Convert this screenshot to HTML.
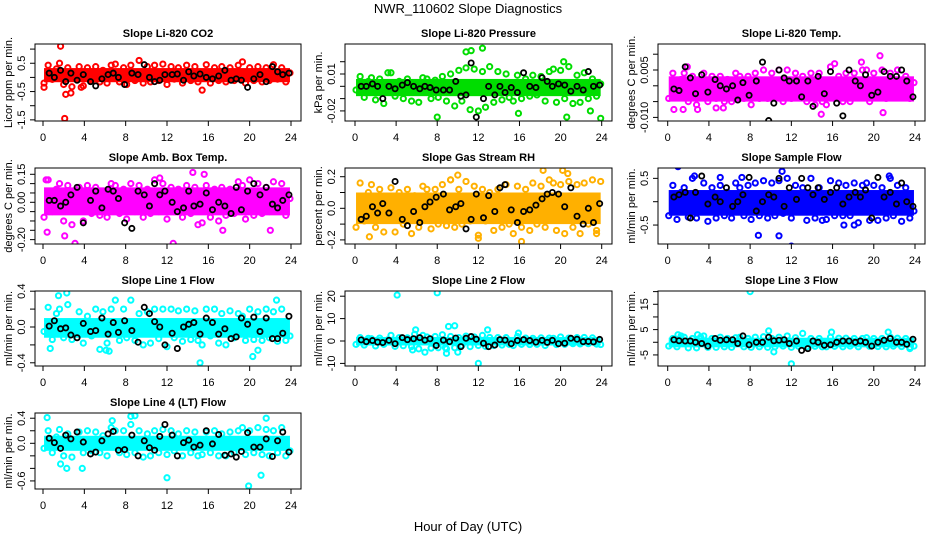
<!DOCTYPE html>
<html><head><meta charset="utf-8"><style>
html,body{margin:0;padding:0;background:#fff;}
svg{display:block;font-family:"Liberation Sans",sans-serif;}
</style></head><body>
<svg id="chart" width="936" height="540" viewBox="0 0 936 540">
<text x="468" y="13" text-anchor="middle" font-size="13">NWR_110602  Slope Diagnostics</text>
<text x="468" y="531" text-anchor="middle" font-size="13">Hour of Day (UTC)</text>
</svg>
<script>
const xTicks = [0,4,8,12,16,20,24];
const colHours = [0.1,0.5,0.9,1.3,1.6,2.0,2.4,2.8,3.2,3.5,3.9,4.3,4.7,5.1,5.5,5.8,6.2,6.6,7.0,7.4,7.8,8.1,8.5,8.9,9.3,9.7,10.1,10.4,10.8,11.2,11.6,12.0,12.4,12.7,13.1,13.5,13.9,14.3,14.7,15.0,15.4,15.8,16.2,16.6,17.0,17.3,17.7,18.1,18.5,18.9,19.3,19.6,20.0,20.4,20.8,21.2,21.6,21.9,22.3,22.7,23.1,23.5,23.9];
const blkHours = [0.6,1.1,1.7,2.2,2.7,3.3,3.9,4.6,5.1,5.7,6.3,6.8,7.3,7.9,8.6,9.2,9.8,10.3,10.8,11.3,11.8,12.5,13.0,13.6,14.1,14.6,15.2,15.8,16.4,17.0,17.6,18.2,18.7,19.2,19.8,20.4,21.0,21.6,22.2,22.7,23.2,23.8];

const titles = ["Slope Li-820 CO2","Slope Li-820 Pressure","Slope Li-820 Temp.","Slope Amb. Box Temp.","Slope Gas Stream RH","Slope Sample Flow","Slope Line 1 Flow","Slope Line 2 Flow","Slope Line 3 Flow","Slope Line 4 (LT) Flow"];
const yTitles = ["Licor ppm per min.","kPa per min.","degrees C per min.","degrees C per min.","percent per min.","ml/min per min.","ml/min per min.","ml/min per min.","ml/min per min.","ml/min per min."];
const colors = ["#ff0000","#00dd00","#ff00ff","#ff00ff","#ffb000","#0000ff","#00ffff","#00ffff","#00ffff","#00ffff"];
const yTickVals = [[1,0.5,0,-0.5,-1,-1.5],[0.02,0.01,0,-0.01,-0.02],[0.01,0.005,0,-0.005,-0.01],[0.15,0.1,0.05,0,-0.05,-0.1,-0.15,-0.2],[0.2,0.1,0,-0.1,-0.2],[0.5,0,-0.5],[0.4,0.2,0,-0.2,-0.4],[20,10,0,-10],[20,15,10,5,0,-5],[0.4,0.2,0,-0.2,-0.4,-0.6]];
const yTickLabels = [["","0.5","","-0.5","","-1.5"],["","0.01","","","-0.02"],["","0.005","","","-0.010"],["0.15","","","0.00","","","","-0.20"],["0.2","","0.0","","-0.2"],["0.5","","-0.5"],["0.4","","0.0","","-0.4"],["20","10","0","-10"],["","15","","5","","-5"],["0.4","","0.0","","","-0.6"]];
const yDomains = [[-1.54,1.18],[-0.0282,0.0344],[-0.01114,0.01323],[-0.2234,0.1837],[-0.2259,0.2551],[-0.9058,0.7217],[-0.4358,0.4022],[-11.16,22.32],[-9.37,20.24],[-0.7289,0.4833]];
const bandLo = [-0.17,-0.008,-0.005,-0.07,-0.1,-0.3,-0.12,-2.0,-2.0,-0.12];
const bandHi = [0.33,0.006,0.003,0.08,0.1,0.25,0.1,1.8,1.8,0.12];

const colVals = [
[-0.2,0.43,-0.07,0.3,0.5,-0.25,0.34,-0.33,0.16,0.38,-0.3,0.34,-0.11,0.38,-0.16,0.25,-0.2,0.43,0.47,-0.16,0.34,-0.25,0.43,-0.11,0.6,-0.2,0.38,-0.16,0.43,-0.11,0.47,-0.25,0.38,-0.06,0.34,-0.2,0.43,-0.11,0.38,-0.16,-0.45,0.45,-0.2,0.34,-0.11,0.38,-0.16,0.34,-0.11,0.43,0.55,-0.2,0.34,-0.11,0.38,-0.16,0.34,-0.11,0.45,-0.06,0.34,-0.16,0.16],
[-0.003,0.008,-0.009,0.004,0.007,-0.011,0.006,-0.014,0.001,0.011,-0.008,0.004,-0.01,0.006,-0.012,0.003,-0.013,0.007,0.006,-0.01,0.005,-0.009,0.008,-0.012,0.01,-0.016,0.013,-0.012,0.015,-0.019,0.014,-0.02,0.012,-0.017,0.016,-0.013,0.012,-0.011,0.01,-0.009,-0.012,0.009,-0.01,0.006,-0.008,0.009,-0.007,0.008,-0.012,0.012,0.014,-0.013,0.013,-0.01,0.016,-0.014,0.009,-0.013,0.011,-0.01,0.006,-0.008,0.002],
[-0.004,0.004,-0.003,0.002,0.004,-0.005,0.003,-0.006,0.0,0.004,-0.005,0.003,-0.004,0.003,-0.005,0.002,-0.005,0.004,0.003,-0.004,0.003,-0.006,0.004,-0.004,0.005,-0.004,0.004,-0.003,0.005,-0.005,0.005,-0.004,0.004,-0.003,0.003,-0.005,0.004,-0.006,0.004,-0.005,-0.006,0.006,-0.004,0.003,-0.005,0.004,-0.005,0.004,-0.003,0.005,0.005,-0.005,0.004,-0.003,0.005,-0.004,0.004,-0.003,0.005,-0.003,0.003,-0.004,0.001],
[-0.08,0.12,-0.05,0.07,0.1,-0.1,0.09,-0.12,0.03,0.08,-0.1,0.09,-0.06,0.08,-0.07,0.06,-0.08,0.1,0.09,-0.06,0.07,-0.09,0.1,-0.05,0.09,-0.08,0.07,-0.06,0.12,-0.05,0.1,-0.09,0.08,-0.04,0.07,-0.08,0.09,-0.06,0.08,-0.12,-0.11,0.09,-0.08,0.07,-0.1,0.08,-0.07,0.07,-0.06,0.11,0.09,-0.09,0.12,-0.07,0.1,-0.06,0.08,-0.05,0.11,-0.04,0.1,-0.07,0.02],
[-0.12,0.16,-0.08,0.1,0.15,-0.12,0.12,-0.15,0.04,0.13,-0.15,0.1,-0.1,0.12,-0.16,0.08,-0.12,0.14,0.12,-0.13,0.12,-0.1,0.15,-0.11,0.18,-0.12,0.12,-0.1,0.17,-0.08,0.14,-0.17,0.12,-0.08,0.1,-0.14,0.12,-0.12,0.15,-0.1,-0.16,0.14,-0.12,0.12,-0.14,0.16,-0.1,0.14,-0.12,0.18,0.16,-0.14,0.15,-0.16,0.17,-0.12,0.15,-0.16,0.16,-0.1,0.18,-0.14,0.17],
[-0.3,0.35,-0.38,0.2,0.3,-0.33,0.5,-0.35,0.1,0.4,-0.42,0.3,-0.35,0.35,-0.3,0.2,-0.35,0.4,0.3,-0.3,0.35,-0.38,0.4,-0.3,0.45,-0.35,0.4,-0.3,0.45,-0.25,0.5,-0.35,0.35,-0.2,0.3,-0.4,0.5,-0.35,0.3,-0.4,-0.38,0.45,-0.3,0.4,-0.3,0.35,-0.3,0.4,-0.45,0.35,0.4,-0.4,0.35,-0.4,0.3,-0.35,0.5,-0.3,0.35,-0.42,0.3,-0.35,-0.2],
[-0.05,0.22,-0.14,0.15,0.2,-0.12,0.25,-0.14,0.05,0.17,-0.18,0.12,-0.1,0.2,-0.25,0.17,-0.18,0.2,0.3,-0.15,0.2,-0.12,0.3,-0.15,0.15,-0.2,0.17,-0.18,0.2,-0.13,0.2,-0.22,0.2,-0.12,0.18,-0.16,0.2,-0.14,0.18,-0.15,-0.2,0.2,-0.1,0.2,-0.18,0.15,-0.2,0.18,-0.12,0.15,0.12,-0.15,0.2,-0.14,0.17,-0.15,0.2,-0.12,0.17,-0.16,0.2,-0.15,-0.1],
[-1.5,1.5,-1.8,1.2,1.0,-2.2,1.3,-1.5,0.5,2.5,-2.4,1.5,-2.1,1.4,-2.5,3.0,-3.5,2.5,1.8,-3.2,2.0,-3.0,2.8,-3.5,2.0,-3.0,1.5,-2.0,2.2,-2.5,1.8,-2.0,2.5,-2.4,1.6,-2.0,1.5,-1.8,1.5,-1.5,-2.0,2.0,-1.5,1.3,-1.6,1.2,-1.5,1.4,-2.0,1.3,1.2,-1.6,1.8,-1.5,1.3,-1.2,1.5,-1.3,1.6,-1.2,1.4,-1.4,-1.6],
[-1.5,1.5,-1.8,2.5,2.0,-2.2,1.5,-2.2,2.0,2.5,-2.0,1.5,-2.0,2.0,-1.8,1.5,-2.0,1.8,2.0,-1.8,1.5,-2.0,2.0,-1.8,2.2,-2.0,1.5,-1.8,2.0,-1.5,2.5,-2.0,1.8,-1.6,3.5,-1.8,1.5,-1.6,1.5,-1.8,-1.8,2.0,-1.6,1.6,-1.8,1.6,-1.5,1.5,-1.8,1.5,1.8,-1.6,1.5,-1.7,1.5,-1.8,2.0,-1.5,1.6,-1.7,1.5,-2.0,-1.5],
[-0.08,0.2,-0.15,0.1,0.22,-0.2,0.15,-0.22,0.05,0.18,-0.15,0.2,-0.12,0.18,-0.15,0.12,-0.2,0.25,0.2,-0.15,0.2,-0.18,0.3,-0.15,0.2,-0.22,0.15,-0.2,0.2,-0.15,0.22,-0.18,0.2,-0.12,0.15,-0.2,0.2,-0.15,0.18,-0.2,-0.18,0.18,-0.15,0.2,-0.2,0.15,-0.2,0.18,-0.15,0.2,0.25,-0.18,0.2,-0.15,0.25,-0.18,0.22,-0.2,0.2,-0.15,0.25,-0.2,-0.12]
];
const outHours = [
[1.7,2.1,0.1,2.2,2.7,3.7],
[10.8,11.3,12.4,8.0,20.6,23.9,15.9,22.9,3.2,20.3],
[20.6,20.9,14.9,0.6,1.5,2.9,4.7,5.4,1.9,16.2,18.8],
[0.4,2.1,3.1,12.6,14.5,15.6,0.3,11.3,17.4,22.0],
[18.3,20.2,20.7,16.2,12.0,10.0,1.4,9.3,23.5],
[1.0,12.0,8.8,10.8,11.1,2.6,5.1,7.2,17.1,18.1,21.5],
[2.3,1.5,15.2,20.3,20.8,22.6,0.7,6.1,6.4],
[4.1,8.0,12.0,9.1,9.7,5.9,12.9,6.8,8.9,10.0,5.6,15.9,8.8],
[8.0,12.0,9.8,10.3,21.4,15.9,2.9,23.5,1.0],
[0.4,8.5,8.9,2.3,12.0,19.9,21.1,3.8,6.7,21.6,1.7]
];
const outVals = [
[1.1,-1.45,-0.35,-0.6,-0.55,-0.35],
[0.028,0.029,0.031,-0.025,-0.025,-0.026,-0.022,-0.02,0.011,0.02],
[0.0095,-0.0085,-0.009,-0.0075,-0.0075,-0.0075,-0.007,-0.007,0.006,0.007,0.0075],
[-0.16,-0.18,-0.22,-0.22,0.16,0.15,0.12,0.13,-0.15,-0.15],
[0.24,0.24,0.22,-0.21,-0.19,0.21,-0.18,0.18,-0.16],
[0.75,-0.95,-0.72,-0.73,0.65,0.55,0.52,0.52,-0.5,-0.5,0.55],
[0.38,0.35,-0.4,-0.33,-0.26,0.3,-0.24,-0.26,-0.27],
[20.5,21.5,-10,6.5,6.8,5.0,5.0,-5,-5.5,-5,-4,3.5,-3],
[20,-8.5,4.5,-3.8,4,4,3,-2.5,3],
[0.41,0.43,0.44,-0.4,-0.55,-0.68,-0.51,-0.4,0.36,0.4,-0.33]
];
const blkVals = [
[0.15,0.0,0.25,-0.15,0.15,-0.1,0.1,-0.15,-0.3,-0.05,0.1,0.15,0.0,-0.25,0.15,0.1,0.45,0.0,-0.15,-0.1,0.1,0.1,0.12,-0.1,0.2,0.05,0.12,0.0,-0.05,0.05,0.25,-0.1,-0.05,-0.1,-0.35,-0.05,0.1,-0.15,0.38,0.2,0.1,0.15],
[0.0,0.0,0.002,0.0,-0.01,0.0,-0.002,0.001,0.003,0.0,-0.002,0.0,-0.001,-0.003,-0.003,-0.003,0.004,-0.008,-0.007,0.019,-0.025,-0.01,0.0,-0.007,0.0,-0.005,-0.001,-0.005,0.011,0.0,-0.001,0.007,0.004,0.0,0.002,0.001,-0.004,0.0,-0.003,0.012,0.0,0.001],
[-0.001,-0.0015,0.006,0.0025,-0.0025,0.0035,-0.002,0.002,0.0,-0.001,0.0,-0.0045,0.001,-0.003,0.0015,0.0075,-0.011,-0.0055,0.005,0.0025,0.0015,0.0015,-0.0035,0.0015,-0.0065,0.003,-0.0025,0.0045,-0.0055,-0.0095,0.005,0.0015,0.0,0.0035,-0.003,-0.002,0.0045,0.003,0.003,0.005,0.0015,-0.0035],
[0.01,0.01,-0.02,0.0,0.04,0.08,-0.11,0.01,0.06,-0.03,0.07,0.06,0.02,-0.11,-0.14,0.06,0.04,-0.02,0.10,0.04,0.06,0.0,-0.05,-0.03,0.06,-0.02,-0.01,0.05,-0.04,0.0,-0.02,-0.06,0.08,-0.04,0.06,0.10,0.04,0.08,-0.01,-0.03,0.01,0.04],
[-0.07,-0.05,0.01,-0.03,0.03,-0.03,0.17,-0.07,-0.11,-0.02,-0.09,0.01,0.04,0.07,0.09,-0.01,0.01,0.03,-0.13,-0.07,0.09,-0.06,0.08,-0.02,0.13,0.15,-0.01,-0.09,-0.02,-0.01,0.02,0.06,0.09,0.1,0.09,0.01,0.13,-0.05,-0.1,0.0,-0.09,0.03],
[0.1,0.15,0.2,-0.35,0.2,0.55,-0.05,0.1,0.0,0.3,-0.1,0.0,0.15,0.52,-0.2,0.0,0.15,0.1,0.5,-0.1,0.3,0.05,0.5,0.3,0.15,0.3,0.05,0.2,0.3,-0.05,0.1,0.2,0.1,0.25,-0.35,0.52,0.1,0.2,-0.05,0.4,0.0,-0.1],
[0.01,0.07,-0.02,-0.01,-0.09,-0.12,0.04,-0.05,-0.04,0.1,-0.08,0.05,-0.06,0.07,-0.04,-0.17,0.22,0.15,0.06,0.0,-0.2,-0.07,-0.24,0.0,0.03,0.05,-0.08,0.1,0.05,-0.08,-0.02,-0.13,-0.11,0.1,0.03,0.11,-0.05,0.1,-0.13,-0.13,-0.07,0.12],
[0.5,-0.3,0.2,-0.5,-0.7,0.3,-1.2,1.5,0.6,1.0,1.5,0.4,1.0,-2.0,0.4,-0.3,1.3,-2.5,1.2,2.0,0.8,-1.0,-2.5,-1.8,0.6,0.4,-1.2,0.2,0.6,0.2,-0.5,0.3,-0.6,0.3,-1.2,-1.0,1.2,0.8,-0.3,-0.2,-0.4,0.7],
[1.0,0.6,0.5,0.5,0.0,-0.5,-1.5,1.5,0.8,1.0,1.0,-0.5,2.5,-1.0,0.0,0.0,2.0,0.6,0.8,1.0,-0.5,0.5,-3.2,-2.5,0.5,0.0,-1.2,-1.0,0.0,0.5,0.5,0.0,0.5,0.0,-1.5,0.0,0.8,1.5,0.0,0.0,-0.8,1.2],
[0.08,0.01,-0.08,0.13,0.07,0.18,0.02,-0.17,-0.14,0.04,0.15,0.19,-0.11,-0.1,0.13,-0.2,0.04,-0.07,-0.11,0.11,0.3,0.13,-0.2,0.01,0.05,-0.06,-0.03,0.2,-0.01,0.14,-0.19,-0.17,-0.22,-0.13,0.17,-0.06,-0.06,0.07,-0.21,0.04,0.18,-0.14]
];

// layout (pixel geometry)
const colBox = [[35,301,43,291],[345,612,355,601.7],[658,925,667.7,915]];
const rowBox = [[44,121],[168,244],[291,366],[413,489]];
const NS = "http://www.w3.org/2000/svg";
const svg = document.getElementById("chart");
function mk(tag, attrs, parent){const e=document.createElementNS(NS,tag);for(const k in attrs)e.setAttribute(k,attrs[k]);(parent||svg).appendChild(e);return e;}

for(let p=0;p<10;p++){
  const c = colBox[p%3], r = rowBox[Math.floor(p/3)];
  const [L,R,x0,x24]=c, [T,B]=r;
  const xs = h => x0 + (x24-x0)*h/24;
  const [dmin,dmax]=yDomains[p];
  const ys = v => B - (v-dmin)/(dmax-dmin)*(B-T);
  const g = mk("g",{});
  
  
  const clip = mk("clipPath",{id:"clip"+p},g);
  mk("rect",{x:L,y:T,width:R-L,height:B-T},clip);
  const t = mk("text",{x:(L+R)/2,y:T-7,"text-anchor":"middle","font-size":"11","font-weight":"bold"},g);
  t.textContent = titles[p];
  
  
  const yt = mk("text",{x:0,y:0,"text-anchor":"middle","font-size":"11",transform:`translate(${L-23},${(T+B)/2}) rotate(-90)`},g);
  yt.textContent = yTitles[p];
  
  
  xTicks.forEach(h=>{
    mk("line",{x1:xs(h),x2:xs(h),y1:B,y2:B+5,stroke:"#000"},g);
    const tl = mk("text",{x:xs(h),y:B+20,"text-anchor":"middle","font-size":"11"},g);
    tl.textContent = h;
    
    
  });
  yTickVals[p].forEach((v,i)=>{
    mk("line",{x1:L-5,x2:L,y1:ys(v),y2:ys(v),stroke:"#000"},g);
    if(yTickLabels[p][i]){
      const tl = mk("text",{x:0,y:0,"text-anchor":"middle","font-size":"11",transform:`translate(${L-10},${ys(v)}) rotate(-90)`},g);
      tl.textContent = yTickLabels[p][i];
      
      
    }
  });
  const pg = mk("g",{"clip-path":`url(#clip${p})`},g);
  const band = mk("rect",{x:xs(0.1),y:ys(bandHi[p]),width:xs(23.9)-xs(0.1),height:ys(bandLo[p])-ys(bandHi[p]),fill:colors[p]},pg);
  
  
  colHours.forEach((h,i)=>{
    const pt = mk("circle",{cx:xs(h),cy:ys(colVals[p][i]),r:2.6,fill:"none",stroke:colors[p],"stroke-width":2},pg);
    
    
  });
  outHours[p].forEach((h,i)=>{
    const pt = mk("circle",{cx:xs(h),cy:ys(outVals[p][i]),r:2.6,fill:"none",stroke:colors[p],"stroke-width":2},pg);
    
    
  });
  blkHours.forEach((h,i)=>{
    const pt = mk("circle",{cx:xs(h),cy:ys(blkVals[p][i]),r:2.6,fill:"none",stroke:"#000","stroke-width":1.8},pg);
    
    
  });
  const box = mk("rect",{x:L,y:T,width:R-L,height:B-T,fill:"none",stroke:"#000","stroke-width":1},g);
  
  
}
</script>
</body></html>
